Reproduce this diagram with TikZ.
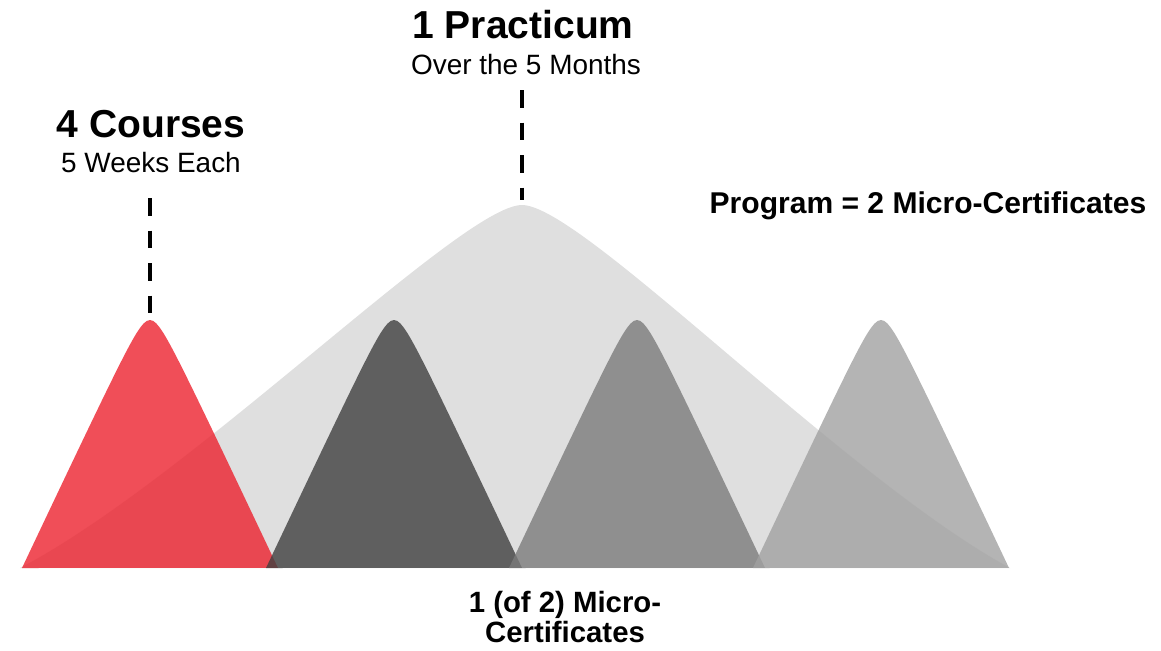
\documentclass[tikz,border=0pt]{standalone}
\usepackage{fontspec}
\setmainfont{Liberation Sans}
\usetikzlibrary{calc}

\definecolor{bellgrey}{RGB}{223,223,223}
\definecolor{coursered}{RGB}{236,34,46}
\definecolor{darkbell}{RGB}{64,64,64}
\definecolor{midbell}{RGB}{123,123,123}
\definecolor{lightbell}{RGB}{161,161,161}

\begin{document}
\begin{tikzpicture}[x=0.02cm, y=-0.02cm]

% Define styles
\tikzstyle{heading} = [anchor=base, inner sep=0pt, font=\fontsize{22.2}{22.2}\selectfont\bfseries]
\tikzstyle{subheading} = [anchor=base, inner sep=0pt, font=\fontsize{15.9}{15.9}\selectfont]
\tikzstyle{total} = [anchor=base, inner sep=0pt, font=\fontsize{17.1}{17.1}\selectfont\bfseries]
\tikzstyle{caption} = [anchor=base, inner sep=0pt, align=center, font=\fontsize{16.7}{16.7}\selectfont\bfseries]
\tikzstyle{smallbell} = [fill opacity=0.8]
\tikzstyle{guide} = [draw=black, line width=2.8pt, dash pattern=on 10.2pt off 8.3pt]

\useasboundingbox (0,0) rectangle (1161,650);

% Practicum: the big bell
\coordinate (bigpeak) at (522,205);
\fill[bellgrey] (20,568) .. controls (192,478) and (462,205) .. (bigpeak)
  .. controls (582,205) and (844,478) .. (1010,568) -- cycle;

% Courses: the four small bells
\coordinate (redpeak) at (150,320);
\foreach \cx/\col in {150/coursered, 394/darkbell, 637/midbell, 881/lightbell}
  \fill[smallbell, fill=\col] plot[domain=-1:1, samples=81]
    ({\cx+128*\x}, {568-248*(sqrt(1.0081)-sqrt(\x*\x+0.0081))/(sqrt(1.0081)-0.09)}) -- cycle;

% Labels
\node (practicum) [heading] at (523,38) {1 Practicum};
\node (practicumnote) [subheading] at (526,74) {Over the 5 Months};
\node (courses) [heading] at (151,137) {4 Courses};
\node (coursesnote) [subheading] at (151,172) {5 Weeks Each};
\node (program) [total] at (928,213) {Program = 2 Micro-Certificates};
\node (microcert) [caption] at (565,642) {1 (of 2) Micro-\\Certificates};

% Dashed pointers
\draw [guide] ($(bigpeak)+(0,-115)$) -- ($(bigpeak)+(0,-5)$);
\draw [guide] ($(redpeak)+(0,-122)$) -- ($(redpeak)+(0,-6)$);

\end{tikzpicture}
\end{document}
